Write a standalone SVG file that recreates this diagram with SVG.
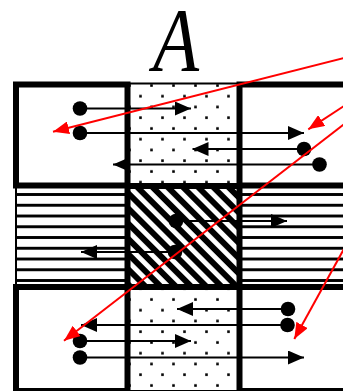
<svg xmlns="http://www.w3.org/2000/svg" width="343" height="391" viewBox="0 0 343 391">
<style>
.thin{stroke:#000;stroke-width:2}
.box{fill:none;stroke:#000;stroke-width:6}
.arr{stroke:#000;stroke-width:2;fill:none;marker-start:url(#dot);marker-end:url(#ah)}
.red{stroke:#ff0000;stroke-width:2;fill:none;marker-end:url(#rh)}
</style>
<defs>
<pattern id="dotsT" patternUnits="userSpaceOnUse" x="124" y="80" width="22" height="21.5">
<rect x="4.2" y="4.2" width="2.6" height="2.6"/><rect x="15.2" y="14.9" width="2.6" height="2.6"/>
</pattern>
<pattern id="dotsB" patternUnits="userSpaceOnUse" x="124" y="294" width="22" height="21.5">
<rect x="4.2" y="4.2" width="2.6" height="2.6"/><rect x="15.2" y="14.9" width="2.6" height="2.6"/>
</pattern>
<pattern id="hs" patternUnits="userSpaceOnUse" x="0" y="182.3" width="20" height="10.75">
<rect x="0" y="0" width="20" height="2.9"/>
</pattern>
<pattern id="dg" patternUnits="userSpaceOnUse" width="10.75" height="10.75" patternTransform="rotate(45)">
<rect width="10.75" height="5.9"/>
</pattern>
<marker id="ah" markerUnits="userSpaceOnUse" markerWidth="16" markerHeight="14" refX="16" refY="7" orient="auto"><path d="M0,0 L16,7 L0,14 z" fill="#000"/></marker>
<marker id="dot" markerUnits="userSpaceOnUse" markerWidth="16" markerHeight="16" refX="8" refY="8"><circle cx="8" cy="8" r="7.3" fill="#000"/></marker>
<marker id="rh" markerUnits="userSpaceOnUse" markerWidth="16" markerHeight="13" refX="16" refY="6.5" orient="auto"><path d="M0,0 L16,6.5 L0,13 z" fill="#ff0000"/></marker>
</defs>
<rect width="343" height="391" fill="#fff"/>
<g id="cell-top-middle"><rect class="thin" x="127.5" y="83.5" width="112" height="102" fill="url(#dotsT)"/></g>
<g id="cell-bottom-middle"><rect class="thin" x="127.5" y="287" width="112" height="104" fill="url(#dotsB)"/></g>
<g id="cell-left-middle"><rect class="thin" x="16" y="185.5" width="111.5" height="101.5" fill="url(#hs)"/></g>
<g id="cell-right-middle"><rect class="thin" x="239.5" y="185.5" width="115" height="101.5" fill="url(#hs)"/></g>
<g id="cell-center"><rect x="127.5" y="186" width="112" height="101" fill="url(#dg)" stroke="#000" stroke-width="6"/></g>
<g id="cell-top-left"><rect class="box" x="16" y="84.5" width="111.5" height="101"/></g>
<g id="cell-top-right"><rect class="box" x="239.5" y="84.5" width="115" height="101"/></g>
<g id="cell-bottom-left"><rect class="box" x="16" y="287" width="111.5" height="104"/></g>
<g id="cell-bottom-right"><rect class="box" x="239.5" y="287" width="115" height="104"/></g>
<g id="connectors">
<line class="arr" x1="80" y1="108.5" x2="191" y2="108.5"/>
<line class="arr" x1="80" y1="133" x2="304" y2="133"/>
<line class="arr" x1="304" y1="149" x2="192.5" y2="149"/>
<line class="arr" x1="319.5" y1="164.5" x2="113" y2="164.5"/>
<line class="arr" x1="176" y1="221" x2="287" y2="221"/>
<line class="arr" x1="175" y1="252" x2="81" y2="252"/>
<line class="arr" x1="288" y1="309" x2="177" y2="309"/>
<line class="arr" x1="287.5" y1="325" x2="81" y2="325"/>
<line class="arr" x1="80" y1="341" x2="191" y2="341"/>
<line class="arr" x1="80" y1="357.5" x2="304" y2="357.5"/>
<line class="red" x1="350" y1="56.5" x2="53" y2="131.7"/>
<line class="red" x1="350" y1="102" x2="308.3" y2="129.3"/>
<line class="red" x1="350" y1="119.6" x2="64" y2="340.7"/>
<line class="red" x1="350" y1="238" x2="294.3" y2="339"/>
</g>
<text x="153" y="71" textLength="46" lengthAdjust="spacingAndGlyphs" font-family="Liberation Serif, serif" font-style="italic" font-size="90">A</text>
</svg>
